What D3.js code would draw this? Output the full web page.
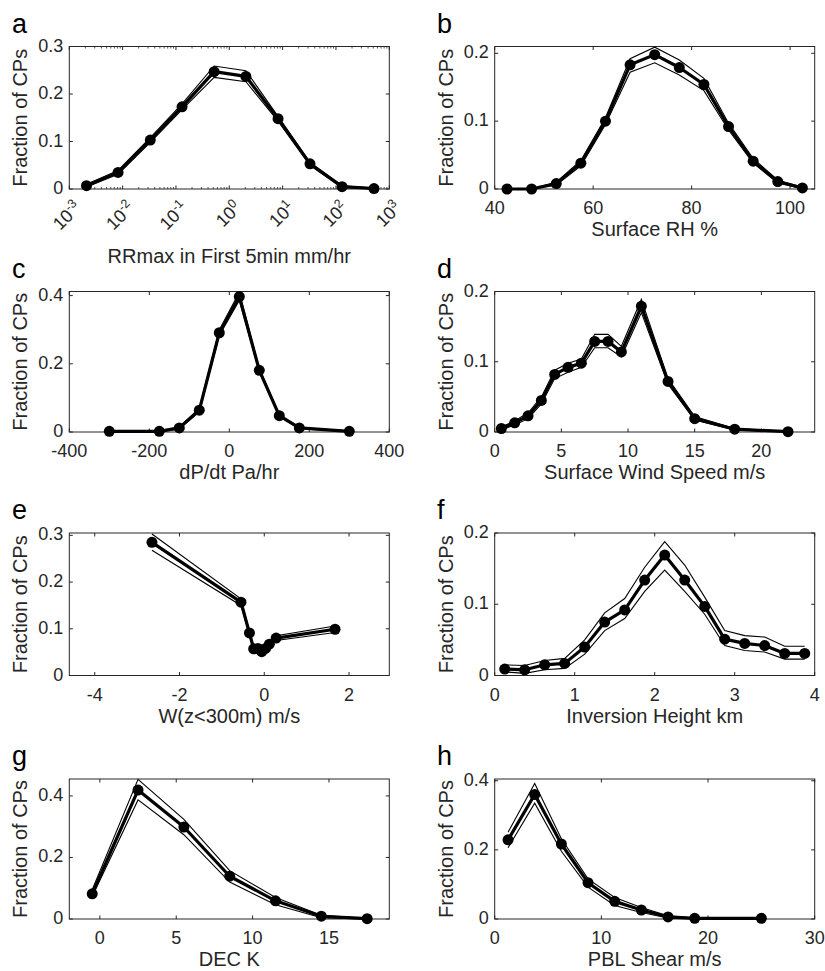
<!DOCTYPE html>
<html><head><meta charset="utf-8">
<script src="https://cdn.jsdelivr.net/npm/d3@7"></script>
<style>body{margin:0;background:#fff} svg{display:block}</style>
</head><body>
<svg id="chart" width="825" height="971"></svg>
<script>
// ---- data ----
const aX = [0.0021, 0.0082, 0.033, 0.13, 0.52, 2.05, 8.2, 32.6, 130, 516];
const aMean = [0.007, 0.035, 0.103, 0.173, 0.247, 0.237, 0.148, 0.053, 0.005, 0.001];
const aLow  = [0.004, 0.031, 0.098, 0.167, 0.235, 0.226, 0.143, 0.050, 0.003, 0.000];
const aHigh = [0.010, 0.039, 0.108, 0.179, 0.259, 0.249, 0.153, 0.056, 0.007, 0.002];

const bX = [42.5, 47.5, 52.5, 57.5, 62.5, 67.5, 72.5, 77.5, 82.5, 87.5, 92.5, 97.5, 102.5];
const bMean = [0, 0, 0.008, 0.038, 0.100, 0.183, 0.198, 0.179, 0.154, 0.092, 0.041, 0.011, 0.0015];
const bLow  = [0, 0, 0.006, 0.034, 0.095, 0.172, 0.186, 0.168, 0.145, 0.087, 0.038, 0.009, 0.0005];
const bHigh = [0.0005, 0.0005, 0.010, 0.042, 0.105, 0.192, 0.209, 0.190, 0.163, 0.097, 0.045, 0.013, 0.003];

const cX = [-300, -175, -125, -75, -25, 25, 75, 125, 175, 300];
const cMean = [0.002, 0.002, 0.012, 0.064, 0.291, 0.397, 0.181, 0.048, 0.012, 0.002];
const cLow  = [0.001, 0.001, 0.009, 0.059, 0.283, 0.386, 0.176, 0.045, 0.010, 0.001];
const cHigh = [0.003, 0.003, 0.015, 0.069, 0.299, 0.410, 0.186, 0.051, 0.014, 0.003];

const dX = [0.5, 1.5, 2.5, 3.5, 4.5, 5.5, 6.5, 7.5, 8.5, 9.5, 11, 13, 15, 18, 22];
const dMean = [0.005, 0.013, 0.023, 0.045, 0.082, 0.092, 0.098, 0.129, 0.129, 0.114, 0.179, 0.072, 0.019, 0.004, 0.0005];
const dLow  = [0.003, 0.010, 0.019, 0.040, 0.076, 0.085, 0.092, 0.120, 0.120, 0.107, 0.170, 0.068, 0.017, 0.003, 0.000];
const dHigh = [0.007, 0.016, 0.027, 0.050, 0.088, 0.098, 0.104, 0.139, 0.139, 0.122, 0.189, 0.076, 0.022, 0.005, 0.001];

const eX = [-2.65, -0.55, -0.35, -0.25, -0.15, -0.06, 0.03, 0.12, 0.28, 1.67];
const eMean = [0.285, 0.157, 0.091, 0.057, 0.058, 0.051, 0.058, 0.067, 0.080, 0.099];
const eLow  = [0.268, 0.150, 0.087, 0.054, 0.055, 0.048, 0.055, 0.063, 0.075, 0.092];
const eHigh = [0.303, 0.164, 0.095, 0.060, 0.061, 0.054, 0.061, 0.071, 0.085, 0.106];

const fX = [0.125, 0.375, 0.625, 0.875, 1.125, 1.375, 1.625, 1.875, 2.125, 2.375, 2.625, 2.875, 3.125, 3.375, 3.625, 3.875];
const fMean = [0.009, 0.008, 0.015, 0.017, 0.040, 0.075, 0.092, 0.134, 0.169, 0.134, 0.097, 0.051, 0.045, 0.042, 0.031, 0.031];
const fLow  = [0.005, 0.003, 0.008, 0.010, 0.030, 0.063, 0.080, 0.118, 0.148, 0.118, 0.086, 0.042, 0.035, 0.033, 0.023, 0.023];
const fHigh = [0.015, 0.014, 0.021, 0.024, 0.050, 0.088, 0.108, 0.152, 0.188, 0.155, 0.110, 0.063, 0.056, 0.054, 0.041, 0.041];

const gX = [-0.5, 2.5, 5.5, 8.5, 11.5, 14.5, 17.5];
const gMean = [0.082, 0.419, 0.299, 0.139, 0.059, 0.009, 0.001];
const gLow  = [0.073, 0.387, 0.274, 0.120, 0.046, 0.004, 0.000];
const gHigh = [0.095, 0.454, 0.324, 0.157, 0.070, 0.012, 0.002];

const hX = [1.25, 3.75, 6.25, 8.75, 11.25, 13.75, 16.25, 18.75, 25];
const hMean = [0.229, 0.360, 0.217, 0.105, 0.051, 0.026, 0.006, 0.002, 0.002];
const hLow  = [0.206, 0.335, 0.196, 0.092, 0.039, 0.019, 0.003, 0.001, 0.001];
const hHigh = [0.251, 0.392, 0.232, 0.116, 0.062, 0.033, 0.009, 0.003, 0.003];

const panelLetters = ['a', 'b', 'c', 'd', 'e', 'f', 'g', 'h'];
const xLabels = ['RRmax in First 5min mm/hr', 'Surface RH %', 'dP/dt Pa/hr', 'Surface Wind Speed m/s',
                 'W(z<300m) m/s', 'Inversion Height km', 'DEC K', 'PBL Shear m/s'];
const yLabel = 'Fraction of CPs';

const xTicksA = [-3, -2, -1, 0, 1, 2, 3];          // exponents of 10
const xTicksB = [40, 60, 80, 100];
const xTicksC = [-400, -200, 0, 200, 400];
const xTicksD = [0, 5, 10, 15, 20];
const xTicksE = [-4, -2, 0, 2];
const xTicksF = [0, 1, 2, 3, 4];
const xTicksG = [0, 5, 10, 15];
const xTicksH = [0, 10, 20, 30];
const yTicks1 = [0, 0.1, 0.2, 0.3];
const yTicks2 = [0, 0.1, 0.2];
const yTicks3 = [0, 0.2, 0.4];

// ---- layout ----
const colLeft = [69.3, 494.7], plotW = 320;
const rowTop = [46.5, 291.5, 533, 779], rowBot = [189, 432, 675.5, 919];
const ink = '#262626';
const fontFam = '"Liberation Sans", Arial, Helvetica, sans-serif';
const tickFS = 18, labFS = 20;

const panels = [
  {x:aX, m:aMean, lo:aLow, hi:aHigh, xd:[1e-3, 1e3], yd:[0, 0.3], xt:xTicksA, yt:yTicks1, log:true},
  {x:bX, m:bMean, lo:bLow, hi:bHigh, xd:[40, 105], yd:[0, 0.21], xt:xTicksB, yt:yTicks2},
  {x:cX, m:cMean, lo:cLow, hi:cHigh, xd:[-400, 400], yd:[0, 0.412], xt:xTicksC, yt:yTicks3},
  {x:dX, m:dMean, lo:dLow, hi:dHigh, xd:[0, 24], yd:[0, 0.2], xt:xTicksD, yt:yTicks2},
  {x:eX, m:eMean, lo:eLow, hi:eHigh, xd:[-4.6, 2.95], yd:[0, 0.305], xt:xTicksE, yt:yTicks1},
  {x:fX, m:fMean, lo:fLow, hi:fHigh, xd:[0, 4], yd:[0, 0.2], xt:xTicksF, yt:yTicks2},
  {x:gX, m:gMean, lo:gLow, hi:gHigh, xd:[-2, 18.95], yd:[0, 0.455], xt:xTicksG, yt:yTicks3},
  {x:hX, m:hMean, lo:hLow, hi:hHigh, xd:[0, 30], yd:[0, 0.405], xt:xTicksH, yt:yTicks3}
];

const svg = d3.select('#chart');
const fmtY = d => d === 0 ? '0' : d3.format('~g')(d);

panels.forEach((p, i) => {
  const col = i % 2, row = Math.floor(i / 2);
  const L = colLeft[col], R = L + plotW, T = rowTop[row], B = rowBot[row];
  const xs = (p.log ? d3.scaleLog() : d3.scaleLinear()).domain(p.xd).range([L, R]);
  const ys = d3.scaleLinear().domain(p.yd).range([B, T]);
  const g = svg.append('g');

  // box
  g.append('rect').attr('x', L).attr('y', T).attr('width', R - L).attr('height', B - T)
    .attr('fill', 'none').attr('stroke', ink).attr('stroke-width', 1);

  // ticks (inward, both sides)
  const tl = 3.5;
  const xTickVals = p.log ? p.xt.map(e => Math.pow(10, e)) : p.xt;
  xTickVals.forEach(v => {
    const x = xs(v);
    g.append('line').attr('x1', x).attr('x2', x).attr('y1', B).attr('y2', B - tl).attr('stroke', ink);
    g.append('line').attr('x1', x).attr('x2', x).attr('y1', T).attr('y2', T + tl).attr('stroke', ink);
  });
  if (p.log) {
    for (let e = -3; e < 3; e++) for (let k = 2; k <= 9; k++) {
      const x = xs(k * Math.pow(10, e));
      g.append('line').attr('x1', x).attr('x2', x).attr('y1', B).attr('y2', B - 2).attr('stroke', ink).attr('stroke-width', 0.8);
      g.append('line').attr('x1', x).attr('x2', x).attr('y1', T).attr('y2', T + 2).attr('stroke', ink).attr('stroke-width', 0.8);
    }
  }
  p.yt.forEach(v => {
    const y = ys(v);
    g.append('line').attr('x1', L).attr('x2', L + tl).attr('y1', y).attr('y2', y).attr('stroke', ink);
    g.append('line').attr('x1', R).attr('x2', R - tl).attr('y1', y).attr('y2', y).attr('stroke', ink);
    g.append('text').attr('x', L - 6).attr('y', y + 5).attr('text-anchor', 'end')
      .attr('font-family', fontFam).attr('font-size', tickFS).attr('fill', ink).text(fmtY(v));
  });

  // x tick labels
  if (p.log) {
    p.xt.forEach(e => {
      const x = xs(Math.pow(10, e));
      const t = g.append('text').attr('transform', `translate(${x + 13},${B + 20}) rotate(-45)`)
        .attr('text-anchor', 'end').attr('font-family', fontFam).attr('font-size', tickFS).attr('fill', ink);
      t.append('tspan').text('10');
      t.append('tspan').attr('dy', -7).attr('font-size', 12.5).text(String(e));
    });
  } else {
    p.xt.forEach(v => {
      g.append('text').attr('x', xs(v)).attr('y', B + 25).attr('text-anchor', 'middle')
        .attr('font-family', fontFam).attr('font-size', tickFS).attr('fill', ink).text(String(v));
    });
  }

  // axis labels
  g.append('text').attr('x', (L + R) / 2).attr('y', p.log ? B + 74 : B + 47).attr('text-anchor', 'middle')
    .attr('font-family', fontFam).attr('font-size', labFS).attr('fill', ink).text(xLabels[i]);
  g.append('text').attr('transform', `translate(${L - 42},${(T + B) / 2}) rotate(-90)`)
    .attr('text-anchor', 'middle').attr('font-family', fontFam).attr('font-size', labFS).attr('fill', ink).text(yLabel);

  // panel letter
  g.append('text').attr('x', col === 0 ? 12 : 437).attr('y', T - 14)
    .attr('font-family', fontFam).attr('font-size', 27).attr('fill', '#000').text(panelLetters[i]);

  // data
  const idx = d3.range(p.x.length);
  const line = arr => d3.line().x(j => xs(p.x[j])).y(j => ys(arr[j]))(idx);
  g.append('path').attr('d', line(p.lo)).attr('fill', 'none').attr('stroke', '#000').attr('stroke-width', 1.1);
  g.append('path').attr('d', line(p.hi)).attr('fill', 'none').attr('stroke', '#000').attr('stroke-width', 1.1);
  g.append('path').attr('d', line(p.m)).attr('fill', 'none').attr('stroke', '#000').attr('stroke-width', 3.2).attr('stroke-linejoin', 'round');
  g.selectAll('circle.pt').data(idx).enter().append('circle')
    .attr('cx', j => xs(p.x[j])).attr('cy', j => ys(p.m[j])).attr('r', 5.5).attr('fill', '#000');
});
</script>
</body></html>
